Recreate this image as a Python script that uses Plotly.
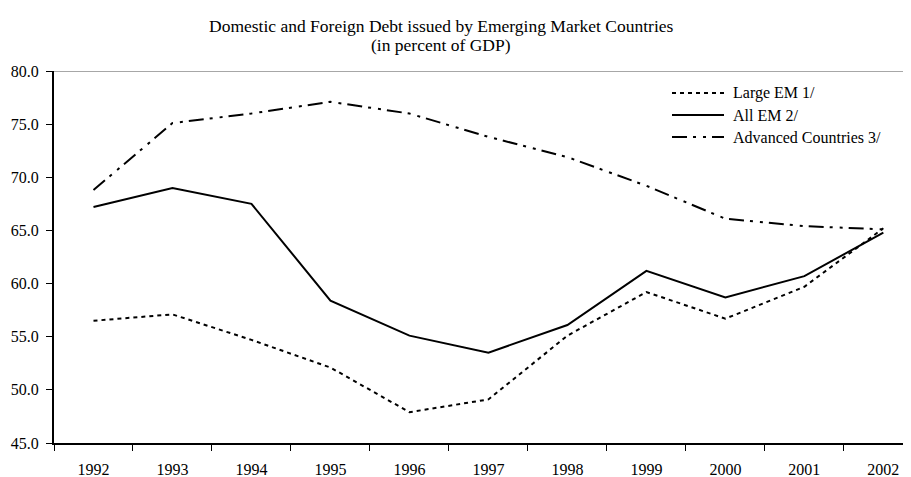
import plotly.graph_objects as go

years = ["1992", "1993", "1994", "1995", "1996", "1997", "1998", "1999", "2000", "2001", "2002"]
large_em = [56.5, 57.1, 54.7, 52.1, 47.9, 49.1, 55.1, 59.2, 56.7, 59.7, 65.2]
all_em = [67.2, 69.0, 67.5, 58.4, 55.1, 53.5, 56.1, 61.2, 58.7, 60.7, 64.8]
advanced = [68.8, 75.1, 76.0, 77.1, 76.0, 73.8, 71.9, 69.2, 66.1, 65.4, 65.1]
y_ticks = [45, 50, 55, 60, 65, 70, 75, 80]

FONT = "Liberation Serif, Times New Roman, serif"
# the page body keeps its default 8px margin, so the figure is 8px smaller
W, H = 903, 469
L, R, T, B = 46, 0, 63, 34

series = [
    ("Large EM 1/", large_em, "4px,4px"),
    ("All EM 2/", all_em, "solid"),
    ("Advanced Countries 3/", advanced, "15px,6px,3px,7px,3px,6px"),
]

fig = go.Figure()
for name, vals, dash in series:
    fig.add_trace(go.Scatter(
        x=years, y=vals, mode="lines", name=name,
        line=dict(color="black", width=2, dash=dash),
        showlegend=False,
    ))

# gray frame line along the top of the plot area
fig.add_shape(type="line", xref="paper", x0=0, x1=1, yref="y", y0=80, y1=80,
              line=dict(color="#8a8a8a", width=1.5))


def px_x(p):
    return (p - L) / (W - L - R)


def px_y(p):
    return 1 - (p - T) / (H - T - B)


# hand-drawn legend (longer sample lines than plotly's own legend)
for i, (name, vals, dash) in enumerate(series):
    yy = 85 + 22 * i
    fig.add_shape(type="line", xref="paper", yref="paper",
                  x0=px_x(664), x1=px_x(716), y0=px_y(yy), y1=px_y(yy),
                  line=dict(color="black", width=2, dash=dash))
    fig.add_annotation(text=name, xref="paper", yref="paper",
                       x=px_x(723), y=px_y(yy), xanchor="left", yanchor="middle",
                       showarrow=False, font=dict(family=FONT, size=16, color="black"))

# two-line title
for text, yy in [("Domestic and Foreign Debt issued by Emerging Market Countries", 18),
                 ("(in percent of GDP)", 37)]:
    fig.add_annotation(text=text, xref="paper", yref="paper",
                       x=px_x(433), y=px_y(yy), xanchor="center", yanchor="middle",
                       showarrow=False, font=dict(family=FONT, size=17.5, color="black"))

fig.update_layout(
    width=W, height=H,
    font=dict(family=FONT, size=16, color="black"),
    plot_bgcolor="white", paper_bgcolor="white",
    margin=dict(l=L, r=R, t=T, b=B),
    showlegend=False,
    xaxis=dict(
        type="category", range=[-0.5, 10.35], automargin=False,
        showline=True, linecolor="black", linewidth=2,
        ticks="outside", ticklen=6, tickcolor="black", tickson="boundaries",
        showgrid=False, zeroline=False, ticklabelstandoff=11,
        tickfont=dict(family=FONT, size=16),
    ),
    yaxis=dict(
        range=[45, 80], tickvals=y_ticks, tickformat=".1f", automargin=False,
        showline=True, linecolor="black", linewidth=2,
        ticks="outside", ticklen=6, tickcolor="black",
        showgrid=False, zeroline=False, ticklabelstandoff=4,
        tickfont=dict(family=FONT, size=16),
    ),
)

fig.write_html("out.html")
